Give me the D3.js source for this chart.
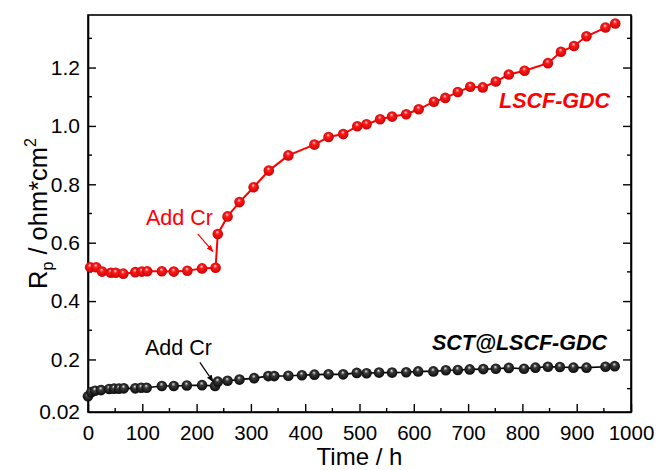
<!DOCTYPE html>
<html><head><meta charset="utf-8">
<script src="https://cdn.jsdelivr.net/npm/d3@7"></script>
<style>body{margin:0;background:#fff}svg{display:block}</style>
</head><body>
<svg id="c" width="658" height="470"></svg>
<script>
const redTime = [4,15,26,42,51,65,87,99,109,136,158,183,210,235,239,257,279,305,333,369,417,443,470,496,513,538,560,586,609,637,658,681,704,727,751,775,804,847,871,895,918,953,971];
const redRp   = [0.516,0.516,0.501,0.497,0.497,0.494,0.499,0.501,0.502,0.502,0.501,0.504,0.512,0.514,0.63,0.69,0.739,0.79,0.847,0.899,0.936,0.962,0.972,0.999,1.006,1.023,1.032,1.040,1.057,1.083,1.096,1.116,1.134,1.132,1.152,1.176,1.189,1.215,1.254,1.274,1.307,1.337,1.351];
const blackTime = [0,6,13,24,39,48,57,66,87,98,108,136,158,182,210,234,239,257,279,306,332,343,369,394,417,443,470,495,513,536,560,586,608,636,659,681,703,728,751,775,803,824,847,869,894,918,953,970];
const blackRp   = [0.074,0.088,0.093,0.095,0.099,0.100,0.100,0.101,0.101,0.103,0.103,0.109,0.109,0.111,0.112,0.109,0.124,0.127,0.131,0.136,0.143,0.143,0.144,0.146,0.148,0.149,0.149,0.154,0.153,0.155,0.155,0.156,0.159,0.159,0.163,0.164,0.166,0.167,0.168,0.171,0.168,0.172,0.175,0.174,0.172,0.172,0.175,0.177];
const xTicks = [0,100,200,300,400,500,600,700,800,900,1000];
const xMinor = [50,150,250,350,450,550,650,750,850,950];
const yTicks = [0.02,0.2,0.4,0.6,0.8,1.0,1.2];
const yTickLabels = ["0.02","0.2","0.4","0.6","0.8","1.0","1.2"];
const yMinor = [0.1,0.3,0.5,0.7,0.9,1.1,1.3];

const svg = d3.select("#c");
const L=88,R=631,T=15,B=412;
const x = d3.scaleLinear().domain([0,1000]).range([L,R]);
const y = d3.scaleLinear().domain([0.02,1.38]).range([B,T]);
const FONT = "'Liberation Sans', Arial, sans-serif";

const defs = svg.append("defs");
function grad(id, hi, mid, dark){
  const g = defs.append("radialGradient").attr("id",id).attr("cx","0.5").attr("cy","0.5").attr("r","0.6").attr("fx","0.45").attr("fy","0.3");
  g.append("stop").attr("offset","0").attr("stop-color",hi);
  g.append("stop").attr("offset","0.3").attr("stop-color",mid);
  g.append("stop").attr("offset","1").attr("stop-color",dark);
}
grad("gr","#ffe0e0","#ff1a1a","#c00000");
grad("gk","#e8e8e8","#3a3a3a","#000000");
function arrowMarker(id,color){
  const m = defs.append("marker").attr("id",id).attr("viewBox","0 0 10 10").attr("refX",9).attr("refY",5)
    .attr("markerWidth",7).attr("markerHeight",7).attr("orient","auto").attr("markerUnits","userSpaceOnUse");
  m.append("path").attr("d","M0,1 L10,5 L0,9 Z").attr("fill",color);
}
arrowMarker("ahr","#ff0000");
arrowMarker("ahk","#000");

// frame
svg.append("rect").attr("x",L).attr("y",T).attr("width",R-L).attr("height",B-T)
  .attr("fill","none").attr("stroke","#000").attr("stroke-width",1.6);

// axes
const gx = svg.append("g").attr("transform",`translate(0,${B})`)
  .call(d3.axisBottom(x).tickValues(xTicks).tickSizeInner(-8).tickSizeOuter(0).tickPadding(13).tickFormat(d3.format("d")));
gx.append("g").selectAll("line").data(xMinor).join("line")
  .attr("x1",d=>x(d)).attr("x2",d=>x(d)).attr("y1",0).attr("y2",-4).attr("stroke","#000").attr("stroke-width",1.4);
const gy = svg.append("g").attr("transform",`translate(${L},0)`)
  .call(d3.axisLeft(y).tickValues(yTicks).tickSizeInner(-8).tickSizeOuter(0).tickPadding(8).tickFormat((d,i)=>yTickLabels[i]));
gy.append("g").selectAll("line").data(yMinor).join("line")
  .attr("y1",d=>y(d)).attr("y2",d=>y(d)).attr("x1",0).attr("x2",4).attr("stroke","#000").attr("stroke-width",1.4);
const gr = svg.append("g").attr("transform",`translate(${R},0)`)
  .call(d3.axisRight(y).tickValues(yTicks.slice(1)).tickSizeInner(-8).tickSizeOuter(0).tickFormat(""));
gr.append("g").selectAll("line").data(yMinor).join("line")
  .attr("y1",d=>y(d)).attr("y2",d=>y(d)).attr("x1",0).attr("x2",-4).attr("stroke","#000").attr("stroke-width",1.4);
[gx,gy,gr].forEach(g=>{
  g.select(".domain").attr("stroke","#000").attr("stroke-width",1.6);
  g.selectAll(".tick line").attr("stroke","#000").attr("stroke-width",1.4);
  g.selectAll("text").attr("font-family",FONT).attr("fill","#000");
});
gx.selectAll("text").attr("font-size",20.5);
gy.selectAll("text").attr("font-size",21);
gy.selectAll(".tick").filter(d=>d===0.02).select("line").remove();

// axis titles
svg.append("text").attr("x",(L+R)/2).attr("y",465).attr("text-anchor","middle")
  .attr("font-family",FONT).attr("font-size",24).text("Time / h");
const yt = svg.append("text").attr("transform",`translate(47,${(T+B)/2}) rotate(-90)`).attr("text-anchor","middle")
  .attr("font-family",FONT).attr("font-size",25.5);
yt.append("tspan").text("R");
yt.append("tspan").attr("font-size",16).attr("dy",6).text("p");
yt.append("tspan").attr("dy",-6).text("\u00a0/ ohm*cm");
yt.append("tspan").attr("font-size",16).attr("dy",-11).text("2");

// series
const line = d3.line().x(d=>x(d[0])).y(d=>y(d[1]));
function series(t,v,color,fillId,w){
  const pts = t.map((d,i)=>[d,v[i]]);
  svg.append("path").datum(pts).attr("d",line).attr("fill","none").attr("stroke",color).attr("stroke-width",w);
  svg.append("g").selectAll("circle").data(pts).join("circle")
    .attr("cx",d=>x(d[0])).attr("cy",d=>y(d[1])).attr("r",5.3).attr("fill",`url(#${fillId})`);
}
series(blackTime,blackRp,"#000","gk",1.6);
series(redTime,redRp,"#ff0000","gr",2);

// annotations
const AF = 21.5;
svg.append("text").attr("x",499).attr("y",108).attr("font-family",FONT).attr("font-size",AF)
  .attr("font-weight","bold").attr("font-style","italic").attr("fill","#ff0000").text("LSCF-GDC");
svg.append("text").attr("x",432).attr("y",350).attr("font-family",FONT).attr("font-size",AF)
  .attr("font-weight","bold").attr("font-style","italic").attr("fill","#000").text("SCT@LSCF-GDC");
svg.append("text").attr("x",146).attr("y",225).attr("font-family",FONT).attr("font-size",AF)
  .attr("fill","#ff0000").text("Add Cr");
svg.append("text").attr("x",145).attr("y",355).attr("font-family",FONT).attr("font-size",AF)
  .attr("fill","#000").text("Add Cr");
svg.append("line").attr("x1",x(202)).attr("y1",y(0.63)).attr("x2",x(230)).attr("y2",y(0.57))
  .attr("stroke","#ff0000").attr("stroke-width",1.2).attr("marker-end","url(#ahr)");
svg.append("line").attr("x1",x(206)).attr("y1",y(0.19)).attr("x2",x(230)).attr("y2",y(0.125))
  .attr("stroke","#000").attr("stroke-width",1.2).attr("marker-end","url(#ahk)");
</script>
</body></html>
